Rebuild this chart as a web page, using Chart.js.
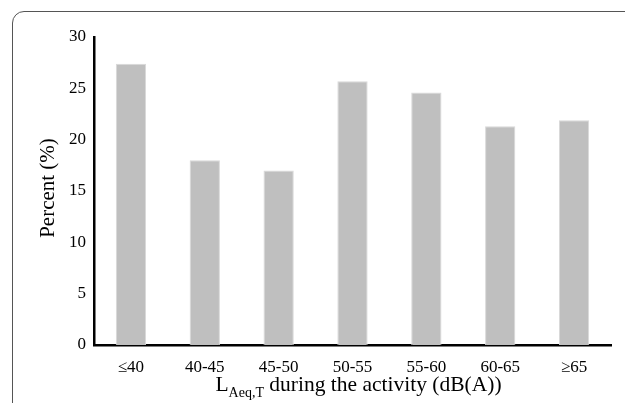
<!DOCTYPE html>
<html>
<head>
<meta charset="utf-8">
<script src="https://cdn.jsdelivr.net/npm/chart.js@4"></script>
<style>
  html, body { margin: 0; padding: 0; background: #fff; overflow: hidden; }
  #wrap { position: relative; width: 625px; height: 403px; }
  #frame {
    position: absolute; left: 12px; top: 11px; width: 700px; height: 500px;
    border: 1.5px solid #555; border-radius: 12px;
  }
  #chart { position: absolute; left: 0; top: 0; }
</style>
</head>
<body>
<div id="wrap">
  <div id="frame"></div>
  <canvas id="chart" width="625" height="403"></canvas>
</div>
<script>
const categories = ["≤40", "40-45", "45-50", "50-55", "55-60", "60-65", "≥65"];
const percentValues = [27.4, 18.0, 17.0, 25.7, 24.6, 21.3, 21.9];
const yTicks = [0, 5, 10, 15, 20, 25, 30];

const serif = "'Liberation Serif', 'Times New Roman', serif";

// axis titles drawn by hand so the subscript can be rendered
const axisTitles = {
  id: "axisTitles",
  afterDraw(chart) {
    const ctx = chart.ctx;
    const area = chart.chartArea;
    ctx.save();
    ctx.fillStyle = "#000";
    ctx.textBaseline = "alphabetic";

    // x title: L_Aeq,T during the activity (dB(A))
    const mainFont = "21.5px " + serif;
    const subFont = "14px " + serif;
    const partL = "L";
    const partSub = "Aeq,T";
    const partRest = " during the activity (dB(A))";
    ctx.font = mainFont;
    const wL = ctx.measureText(partL).width;
    const wRest = ctx.measureText(partRest).width;
    ctx.font = subFont;
    const wSub = ctx.measureText(partSub).width;
    const total = wL + wSub + wRest;
    let x = (area.left + area.right) / 2 + 6 - total / 2;
    const baseY = 391;
    ctx.textAlign = "left";
    ctx.font = mainFont;
    ctx.fillText(partL, x, baseY);
    x += wL;
    ctx.font = subFont;
    ctx.fillText(partSub, x, baseY + 6);
    x += wSub;
    ctx.font = mainFont;
    ctx.fillText(partRest, x, baseY);

    // y title
    ctx.translate(48, (area.top + area.bottom) / 2 - 3);
    ctx.rotate(-Math.PI / 2);
    ctx.textAlign = "center";
    ctx.textBaseline = "middle";
    ctx.font = "21px " + serif;
    ctx.fillText("Percent (%)", 0, 0);
    ctx.restore();
  }
};

new Chart(document.getElementById("chart"), {
  type: "bar",
  data: {
    labels: categories,
    datasets: [
      {
        label: "Percent",
        data: percentValues,
        backgroundColor: "#bfbfbf",
        borderColor: "#d9d9d9",
        borderWidth: 1,
        categoryPercentage: 1,
        barPercentage: 0.41,
      },
    ],
  },
  options: {
    responsive: false,
    animation: false,
    devicePixelRatio: 1,
    layout: { padding: { top: 37, right: 14, left: 0, bottom: 0 } },
    plugins: {
      legend: { display: false },
      tooltip: { enabled: false },
    },
    scales: {
      x: {
        grid: { display: false, drawTicks: false },
        border: { display: true, color: "#000", width: 2.5 },
        ticks: { color: "#000", font: { family: serif, size: 17 }, padding: 12 },
        afterFit(scale) { scale.height = 58; },
      },
      y: {
        min: 0,
        max: 30,
        grid: { display: false, drawTicks: false },
        border: { display: true, color: "#000", width: 2.5 },
        afterBuildTicks(scale) { scale.ticks = yTicks.map(v => ({ value: v })); },
        ticks: { color: "#000", font: { family: serif, size: 17 }, padding: 8 },
        afterFit(scale) { scale.width = 94; },
      },
    },
  },
  plugins: [axisTitles],
});
</script>
</body>
</html>
